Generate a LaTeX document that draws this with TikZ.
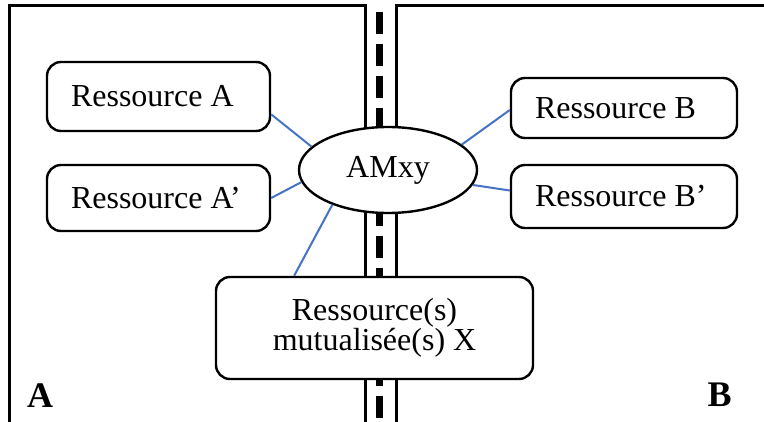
\documentclass[tikz,border=0pt]{standalone}
\usepackage{fontspec}
\setmainfont{Liberation Serif}
\usepackage{tikz}
\usetikzlibrary{shapes.geometric}
\definecolor{linkblue}{RGB}{68,114,196}
\tikzset{
    resbox/.style={rectangle,rounded corners=7pt,draw,fill=white,line width=1.2pt,
        inner xsep=12pt,inner ysep=0pt,align=flush left,font=\fontsize{16}{19}\selectfont},
    hub/.style={ellipse,draw,fill=white,line width=1.2pt,inner sep=0pt,
        minimum width=89pt,minimum height=43pt,font=\fontsize{16}{19}\selectfont},
    link/.style={draw=linkblue,line width=1pt},
    zone/.style={line width=1.5pt,line join=miter},
    zonelabel/.style={font=\fontsize{18}{20}\selectfont\bfseries}
    }

\begin{document}
\begin{tikzpicture}[x=0.5pt,y=-0.5pt]
        \useasboundingbox (0,0) rectangle (764,422);

        % zones and road
        \draw[zone] (9,430) -- (9,6) -- (365,6) -- (365,430);
        \draw[zone] (396,430) -- (396,6) -- (770,6);
        \draw[line width=3.5pt, dash pattern=on 11pt off 5pt] (379.5,12) -- (379.5,430);

        % vertices
        \node[resbox, text width=87.5pt, minimum height=34.5pt] (resA) at (158.5,96.5) {Ressource A};
        \node[resbox, text width=87.5pt, minimum height=33pt] (resAp) at (158.5,198) {Ressource A’};
        \node[resbox, text width=89pt, minimum height=30pt] (resB) at (624,108) {Ressource B};
        \node[resbox, text width=89pt, minimum height=31.5pt] (resBp) at (624,196.5) {Ressource B’};
        \node[resbox, minimum width=158.5pt, minimum height=51pt, align=center,
            font=\fontsize{16}{15}\selectfont] (mut) at (374.5,328)
            {Ressource(s)\\mutualisée(s) X};
        \node[hub] (amxy) at (388,170) {AMxy};
        \node[zonelabel] (labA) at (40,396) {A};
        \node[zonelabel] (labB) at (719.5,395) {B};

        %edges
        \draw[link] (resA.-9) -- (amxy.163);
        \draw[link] (resAp.east) -- (amxy.188);
        \draw[link] (mut.147) -- (amxy.212);
        \draw[link] (amxy.19) -- (resB.181);
        \draw[link] (amxy.-10) -- (resBp.177);
    \end{tikzpicture}
\end{document}
